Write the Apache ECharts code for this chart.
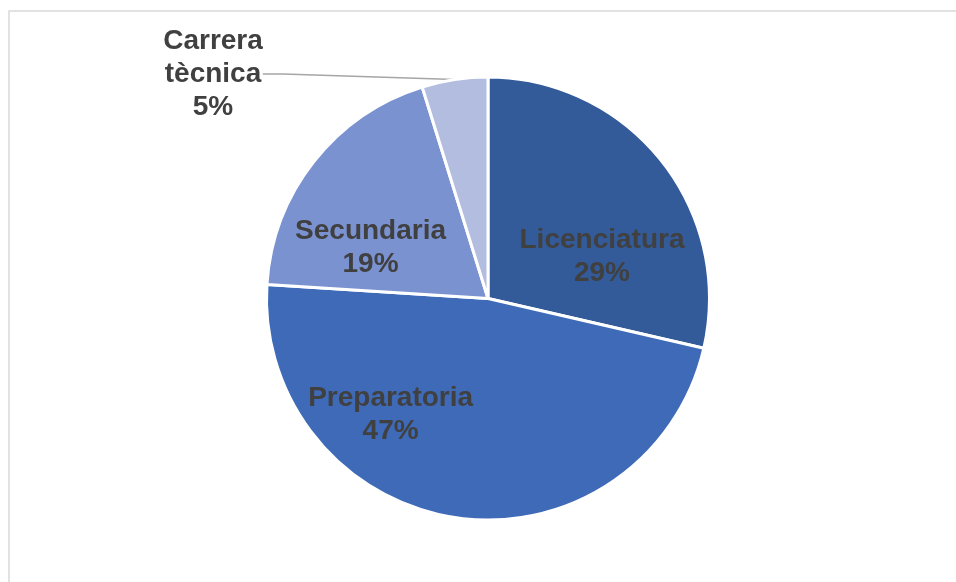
<!DOCTYPE html>
<html>
<head>
<meta charset="utf-8">
<script src="https://cdn.jsdelivr.net/npm/echarts@6/dist/echarts.min.js"></script>
<style>
  html, body { margin: 0; padding: 0; background: #fff; }
  #chart { width: 956px; height: 582px; }
</style>
</head>
<body>
<div id="chart"></div>
<script>
const categories = ['Licenciatura', 'Preparatoria', 'Secundaria', 'Carrera tècnica']
const values = [28.6, 47.4, 19.2, 4.8]
const colors = ['#335A99', '#3E6AB7', '#7A92D0', '#B3BDE0']
// nudges for the labels, Excel puts them off the bisector
const labelShift = [[25, 29], [-81, 4], [-28, 20], null]

const chart = echarts.init(document.getElementById('chart'))

const data = categories.map((name, i) => {
  const item = { name, value: values[i], itemStyle: { color: colors[i] } }
  if (i === 3) {
    item.label = { position: 'outside' }
    item.labelLine = { show: true, length: 20, length2: 20 }
  }
  return item
})

chart.setOption({
  animation: false,
  graphic: [{
    type: 'rect',
    shape: { x: 9, y: 11, width: 980, height: 620 },
    style: { fill: 'none', stroke: '#D9D9D9', lineWidth: 1.5 },
    silent: true
  }],
  series: [{
    type: 'pie',
    center: [488, 298.5],
    radius: 221.5,
    startAngle: 90,
    clockwise: true,
    percentPrecision: 0,
    data,
    itemStyle: { borderColor: '#fff', borderWidth: 3 },
    label: {
      show: true,
      position: 'inside',
      fontFamily: 'Liberation Sans, Arial, sans-serif',
      fontWeight: 'bold',
      fontSize: 28,
      lineHeight: 33,
      color: '#404040',
      align: 'center',
      formatter: p => p.name.replace(' ', '\n') + '\n' + p.percent + '%'
    },
    labelLine: { show: false, lineStyle: { color: '#A6A6A6', width: 1.5 } },
    labelLayout: p => {
      if (p.dataIndex === 3) {
        return { x: 213, y: 74, align: 'center', verticalAlign: 'middle' }
      }
      const s = labelShift[p.dataIndex]
      return { dx: s[0], dy: s[1] }
    }
  }]
})
</script>
</body>
</html>
